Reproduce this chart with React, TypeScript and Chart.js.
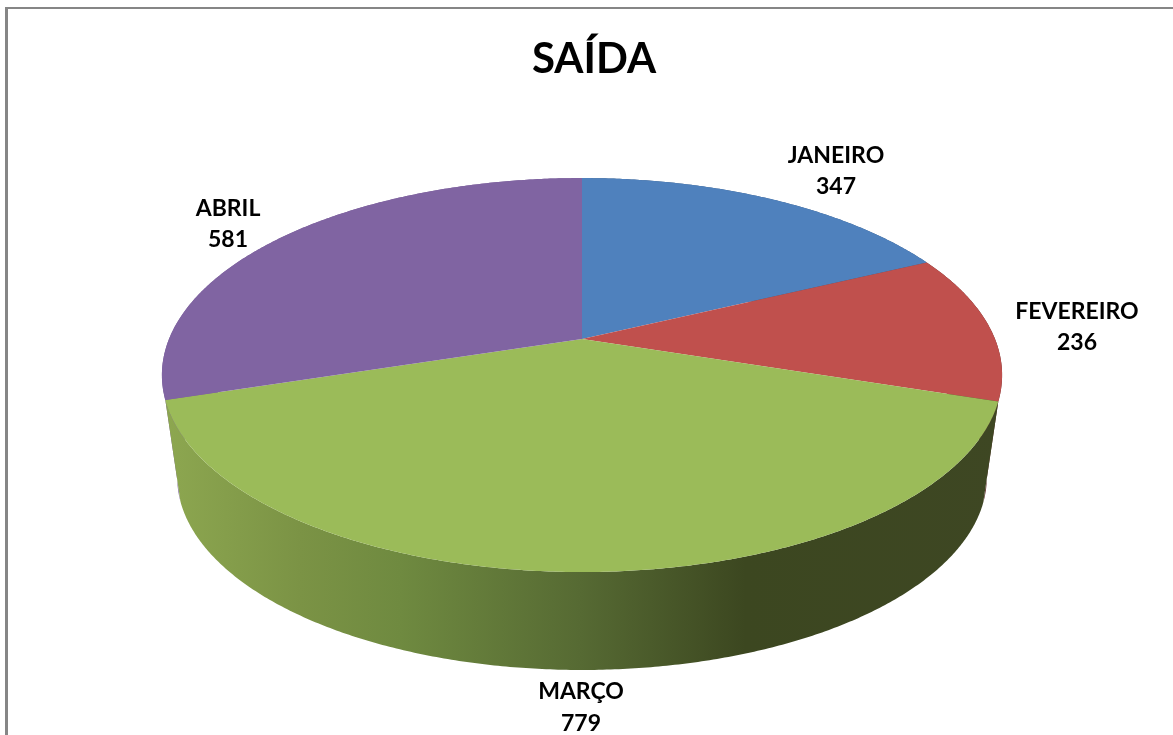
import React, { useEffect, useRef } from "react";
import { Chart, registerables } from "chart.js";

Chart.register(...registerables);

const titleText = "SAÍDA";
const months = ["JANEIRO", "FEVEREIRO", "MARÇO", "ABRIL"];
const saida = [347, 236, 779, 581];
const sliceColors = ["#4F81BD", "#C0504D", "#9BBB59", "#8064A2"];
const wallColors = ["#3A5A80", "#5E2C2A", "", "#7B6199"];

// label block centres, relative to the pie's apex
const labelOffsets = [
  [254, -168],
  [495, -12],
  [-1, 368.5],
  [-354, -115],
];
const labelGap = 31.5;

// perspective model of the disc (radius 1 -> screen, relative to apex)
const OUTER = 200;
const K = 0.183;
const TOP = { a: 413, b: 190.4, dy: 0 };
const BOTTOM = { a: 398, b: 186.5, dy: 102.7 };

type Plane = { a: number; b: number; dy: number };

function project(x0: number, y0: number, p: Plane, theta: number) {
  const s = Math.sin(theta);
  const c = Math.cos(theta);
  const w = 1 + K * c;
  return [x0 + (p.a * s) / w, y0 + p.dy - (p.b * c) / w];
}

function rim(ctx: CanvasRenderingContext2D, x0: number, y0: number, p: Plane, t0: number, t1: number, first: boolean) {
  const n = Math.max(2, Math.ceil(Math.abs(t1 - t0) * 120));
  for (let i = 0; i <= n; i++) {
    const [x, y] = project(x0, y0, p, t0 + ((t1 - t0) * i) / n);
    if (i === 0 && first) ctx.moveTo(x, y);
    else ctx.lineTo(x, y);
  }
}

const perspectivePie = {
  id: "perspectivePie",
  afterLayout(chart: any) {
    // the title sits a little right of the pie's centre
    chart.titleBlock.left += 12;
    chart.titleBlock.right += 12;
  },
  beforeDatasetsDraw(chart: any) {
    const ctx: CanvasRenderingContext2D = chart.ctx;
    const arcs = chart.getDatasetMeta(0).data as any[];
    const x0 = arcs[0].x;
    const y0 = arcs[0].y;

    const wallGradient = ctx.createLinearGradient(x0 - 417, 0, x0 + 420, 0);
    const stop = (x: number, c: string) => wallGradient.addColorStop((x - 165) / 837, c);
    stop(165, "#8DA750");
    stop(300, "#7B9345");
    stop(400, "#6F8A40");
    stop(580, "#566A33");
    stop(745, "#3C4720");
    stop(1002, "#3E4723");

    // walls, back to front: the disc's top then covers whatever faces away
    [3, 1, 0, 2].forEach((i) => {
      const t0 = arcs[i].startAngle + Math.PI / 2;
      const t1 = arcs[i].endAngle + Math.PI / 2;
      ctx.beginPath();
      rim(ctx, x0, y0, TOP, t0, t1, true);
      rim(ctx, x0, y0, BOTTOM, t1, t0, false);
      ctx.closePath();
      ctx.fillStyle = i === 2 ? wallGradient : wallColors[i];
      ctx.fill();
    });

    // top faces
    arcs.forEach((arc, i) => {
      const t0 = arc.startAngle + Math.PI / 2;
      const t1 = arc.endAngle + Math.PI / 2;
      ctx.beginPath();
      ctx.moveTo(x0, y0);
      rim(ctx, x0, y0, TOP, t0, t1, false);
      ctx.closePath();
      ctx.fillStyle = sliceColors[i];
      ctx.fill();
    });

    // labels
    ctx.fillStyle = "#000000";
    ctx.font = "bold 23px Lato, sans-serif";
    ctx.textAlign = "center";
    ctx.textBaseline = "middle";
    months.forEach((m, i) => {
      const [dx, dy] = labelOffsets[i];
      ctx.fillText(m, x0 + dx, y0 + dy - labelGap / 2);
      ctx.fillText(String(saida[i]), x0 + dx, y0 + dy + labelGap / 2);
    });
    return false;
  },
};

const frame = {
  id: "frame",
  beforeDraw(chart: any) {
    const ctx: CanvasRenderingContext2D = chart.ctx;
    ctx.save();
    ctx.fillStyle = "#868686";
    ctx.fillRect(5, 7, 3, 728);
    ctx.fillRect(5, 7, chart.width, 2);
    ctx.restore();
  },
};

export default function App() {
  const ref = useRef<HTMLCanvasElement>(null);
  useEffect(() => {
    const chart = new Chart(ref.current!, {
      type: "pie",
      data: {
        labels: months,
        datasets: [{ data: saida, backgroundColor: sliceColors, borderWidth: 0, radius: OUTER }],
      },
      options: {
        animation: false,
        responsive: false,
        events: [],
        layout: { padding: { top: 34, right: 26, bottom: 141.4, left: 0 } },
        plugins: {
          legend: { display: false },
          tooltip: { enabled: false },
          title: {
            display: true,
            text: titleText,
            color: "#000000",
            font: { family: "Lato, sans-serif", size: 42, weight: "bold", lineHeight: 1.2 },
            padding: 0,
          },
        },
      },
      plugins: [frame, perspectivePie],
    } as any);
    return () => chart.destroy();
  }, []);
  return (
    <div style={{ position: "fixed", left: 0, top: 0, width: 1173, height: 735, overflow: "hidden", background: "#fff" }}>
      <canvas ref={ref} width={1190} height={735} style={{ display: "block" }} />
    </div>
  );
}
